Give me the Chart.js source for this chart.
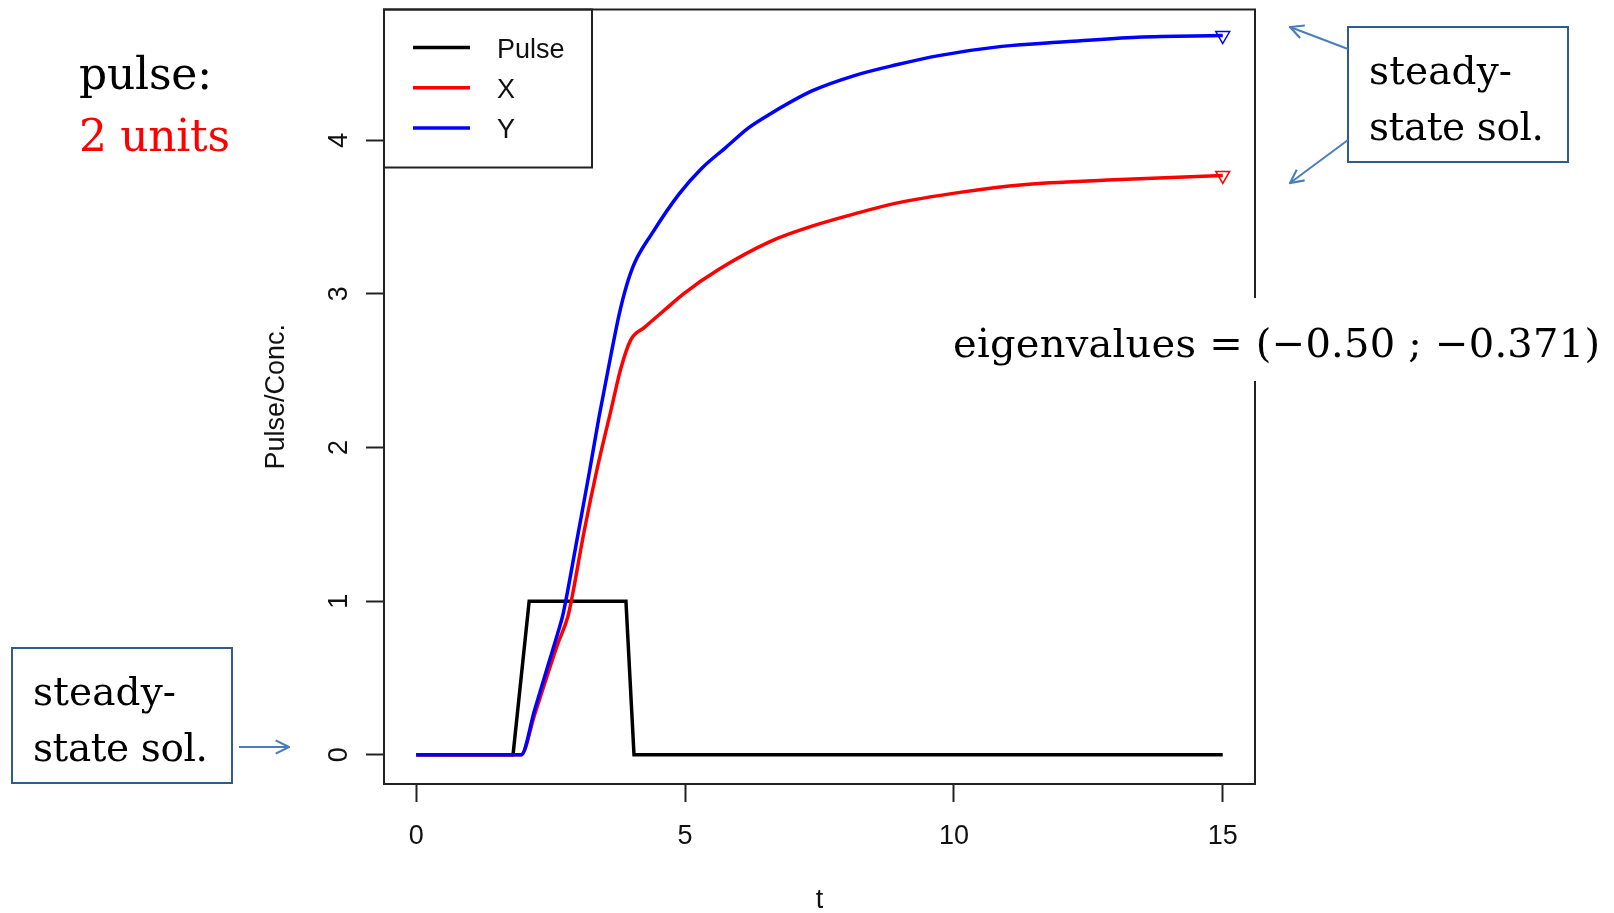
<!DOCTYPE html>
<html>
<head>
<meta charset="utf-8">
<script src="https://cdn.jsdelivr.net/npm/chart.js@4.4.1/dist/chart.umd.min.js"></script>
<style>
  html, body { margin: 0; padding: 0; background: #fff; }
  #wrap { position: relative; width: 1614px; height: 913px; overflow: hidden; }
  #chart { position: absolute; left: 0; top: 0; }
  #notes { position: absolute; left: 0; top: 0; pointer-events: none; }
  #notes text { font-family: "DejaVu Serif", serif; }
</style>
</head>
<body>
<div id="wrap">
  <canvas id="chart" width="1614" height="913"></canvas>
  <svg id="notes" width="1614" height="913">
    <defs>
      <marker id="ah" viewBox="0 0 12 12" refX="11" refY="6" markerWidth="16" markerHeight="16"
              orient="auto" markerUnits="userSpaceOnUse">
        <path d="M1,1 L11,6 L1,11" fill="none" stroke="#4a7ebb" stroke-width="1.6"/>
      </marker>
    </defs>

    <text x="79" y="89" font-size="44" fill="#000" textLength="133" lengthAdjust="spacing">pulse:</text>
    <text x="79" y="151" font-size="44" fill="#ff0000" textLength="151" lengthAdjust="spacing">2 units</text>

    <!-- bottom-left callout -->
    <rect x="12" y="648" width="220" height="135" fill="#fff" stroke="#2f5b8f" stroke-width="2"/>
    <text x="33" y="705" font-size="39" textLength="143" lengthAdjust="spacing">steady-</text>
    <text x="33" y="761" font-size="39" textLength="175" lengthAdjust="spacing">state sol.</text>
    <line x1="239" y1="747" x2="289" y2="747" stroke="#4a7ebb" stroke-width="2" marker-end="url(#ah)"/>

    <!-- top-right callout -->
    <rect x="1348" y="27" width="220" height="135" fill="#fff" stroke="#2f5b8f" stroke-width="2"/>
    <text x="1369" y="84" font-size="39" textLength="143" lengthAdjust="spacing">steady-</text>
    <text x="1369" y="140" font-size="39" textLength="175" lengthAdjust="spacing">state sol.</text>
    <line x1="1348" y1="49" x2="1290" y2="27" stroke="#4a7ebb" stroke-width="2" marker-end="url(#ah)"/>
    <line x1="1348" y1="140" x2="1290" y2="183" stroke="#4a7ebb" stroke-width="2" marker-end="url(#ah)"/>

    <!-- eigenvalue note, covers the frame edge -->
    <rect x="945" y="298" width="669" height="83" fill="#fff"/>
    <text x="953" y="357" font-size="40" textLength="647" lengthAdjust="spacing">eigenvalues = (−0.50 ; −0.371)</text>
  </svg>
</div>
<script>
// values
const xTicks = [0, 5, 10, 15];
const yTicks = [0, 1, 2, 3, 4];

const pulseT = [0, 1.8, 2.1, 3.9, 4.05, 15];
const pulseV = [0, 0, 1, 1, 0, 0];

const xT = [0, 1.95, 2.2, 2.44, 2.63, 2.82, 2.9, 3.12, 3.37, 3.62, 3.81, 3.99, 4.24, 4.67,
            4.97, 5.63, 6.58, 7.36, 8.15, 8.93, 10.11, 11.29, 12.86, 15];
const xV = [0, 0, 0.26, 0.52, 0.72, 0.9, 1.03, 1.45, 1.87, 2.24, 2.52, 2.7, 2.78, 2.91,
            3.0, 3.16, 3.34, 3.44, 3.52, 3.59, 3.66, 3.71, 3.74, 3.77];

const yT = [0, 1.95, 2.2, 2.44, 2.63, 2.72, 2.78, 3.0, 3.22, 3.4, 3.62, 3.77, 3.9, 4.06,
            4.38, 4.89, 5.32, 5.75, 6.18, 6.58, 7.36, 8.15, 8.93, 9.72, 10.89, 12.07, 13.41, 15];
const yV = [0, 0, 0.29, 0.57, 0.79, 0.9, 1.0, 1.42, 1.84, 2.2, 2.6, 2.86, 3.04, 3.2,
            3.39, 3.65, 3.82, 3.95, 4.08, 4.17, 4.32, 4.42, 4.49, 4.55, 4.61, 4.64, 4.67, 4.68];

const axisFont = "'Liberation Sans', Arial, sans-serif";
const ink = "#111";

const toPoints = (ts, vs) => ts.map((t, i) => ({ x: t, y: vs[i] }));
const lastOnly = (n) => (c) => (c.dataIndex === n - 1 ? 8 : 0);

// R-style frame, rotated y labels and boxed legend
const rFrame = {
  id: "rFrame",
  afterDraw(chart) {
    const { ctx, chartArea: a, scales } = chart;
    ctx.save();
    ctx.font = `27px ${axisFont}`;
    ctx.fillStyle = ink;
    ctx.textAlign = "center";
    ctx.textBaseline = "middle";
    scales.y.ticks.forEach((tk) => {
      const py = scales.y.getPixelForValue(tk.value);
      ctx.save();
      ctx.translate(a.left - 44, py);
      ctx.rotate(-Math.PI / 2);
      ctx.fillText(String(tk.value), 0, 0);
      ctx.restore();
    });

    const lx = a.left, ly = a.top;
    ctx.fillStyle = "#fff";
    ctx.fillRect(lx, ly, 208, 158);
    ctx.textAlign = "left";
    chart.data.datasets.forEach((ds, i) => {
      const y = ly + 38 + i * 40.2;
      ctx.strokeStyle = ds.borderColor;
      ctx.lineWidth = 3.5;
      ctx.beginPath();
      ctx.moveTo(lx + 29, y);
      ctx.lineTo(lx + 86, y);
      ctx.stroke();
      ctx.fillStyle = ink;
      ctx.fillText(ds.label, lx + 113, y + 3);
    });
    ctx.strokeStyle = "#222";
    ctx.lineWidth = 2;
    ctx.strokeRect(lx, ly, 208, 158);
    ctx.strokeRect(a.left, a.top, a.right - a.left, a.bottom - a.top);
    ctx.restore();
  },
};

const tickGrid = {
  drawOnChartArea: false,
  drawTicks: true,
  tickLength: 18,
  tickColor: "#222",
  tickWidth: 2,
};

const curve = {
  borderWidth: 3.5,
  cubicInterpolationMode: "monotone",
  pointStyle: "triangle",
  rotation: 180,
  pointBorderWidth: 1.5,
  pointBackgroundColor: "rgba(255,255,255,0)",
};

new Chart(document.getElementById("chart").getContext("2d"), {
  type: "line",
  data: {
    datasets: [
      {
        label: "Pulse",
        data: toPoints(pulseT, pulseV),
        borderColor: "#000000",
        borderWidth: 3.5,
        pointRadius: 0,
        order: 3,
      },
      {
        ...curve,
        label: "X",
        data: toPoints(xT, xV),
        borderColor: "#ff0000",
        pointRadius: lastOnly(xT.length),
        order: 2,
      },
      {
        ...curve,
        label: "Y",
        data: toPoints(yT, yV),
        borderColor: "#0000ff",
        pointRadius: lastOnly(yT.length),
        order: 1,
      },
    ],
  },
  options: {
    responsive: false,
    animation: false,
    devicePixelRatio: 1,
    layout: { padding: { left: 0, top: 9, right: 359, bottom: 0 } },
    elements: { line: { tension: 0 } },
    plugins: { legend: { display: false }, tooltip: { enabled: false } },
    scales: {
      x: {
        type: "linear",
        min: -0.6,
        max: 15.6,
        afterBuildTicks: (s) => { s.ticks = xTicks.map((v) => ({ value: v })); },
        afterFit: (s) => { s.height = 129; },
        grid: tickGrid,
        border: { display: false },
        ticks: { color: ink, padding: 18, maxRotation: 0, autoSkip: false,
                 font: { family: axisFont, size: 27 } },
        title: { display: true, text: "t", color: ink, padding: 0,
                 font: { family: axisFont, size: 27, lineHeight: 0.9 } },
      },
      y: {
        type: "linear",
        min: -0.19,
        max: 4.85,
        afterBuildTicks: (s) => { s.ticks = yTicks.map((v) => ({ value: v })); },
        afterFit: (s) => { s.width = 384; },
        grid: tickGrid,
        border: { display: false },
        ticks: { display: false },
        title: { display: true, text: "Pulse/Conc.", color: ink, padding: { top: 260, bottom: 0 },
                 font: { family: axisFont, size: 27 } },
      },
    },
  },
  plugins: [rFrame],
});
</script>
</body>
</html>
